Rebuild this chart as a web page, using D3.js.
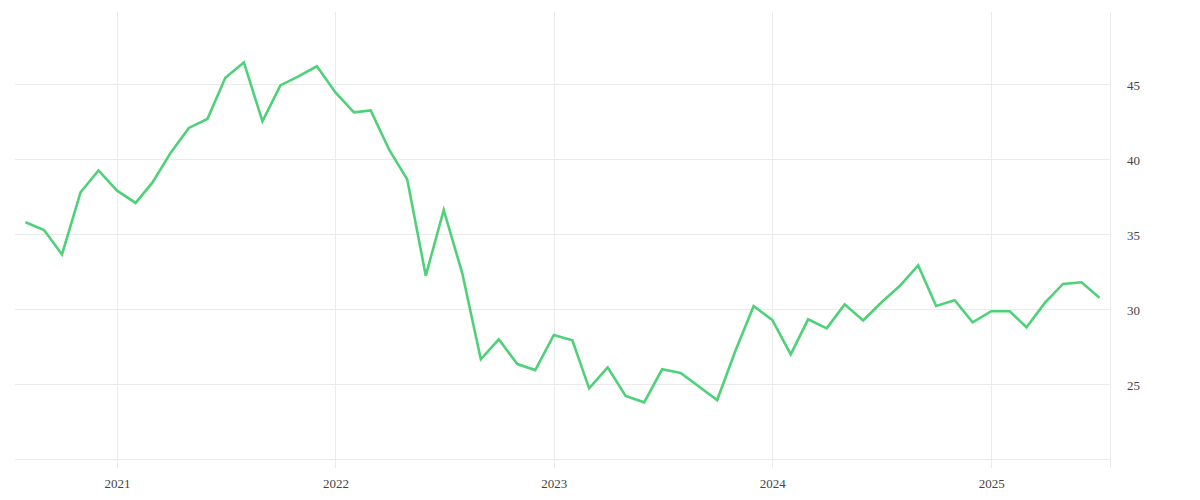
<!DOCTYPE html>
<html>
<head>
<meta charset="utf-8">
<script src="https://cdn.jsdelivr.net/npm/d3@7"></script>
<style>
  html, body { margin: 0; padding: 0; background: #fff; }
  svg { display: block; }
  .tick text { font-family: "Liberation Serif", serif; font-size: 13px; fill: #444; }
</style>
</head>
<body>
<svg id="chart" width="1200" height="500"></svg>
<script>
// ---- data ----
const months = [
  "2020-08","2020-09","2020-10","2020-11","2020-12",
  "2021-01","2021-02","2021-03","2021-04","2021-05","2021-06","2021-07","2021-08","2021-09","2021-10","2021-11","2021-12",
  "2022-01","2022-02","2022-03","2022-04","2022-05","2022-06","2022-07","2022-08","2022-09","2022-10","2022-11","2022-12",
  "2023-01","2023-02","2023-03","2023-04","2023-05","2023-06","2023-07","2023-08","2023-09","2023-10","2023-11","2023-12",
  "2024-01","2024-02","2024-03","2024-04","2024-05","2024-06","2024-07","2024-08","2024-09","2024-10","2024-11","2024-12",
  "2025-01","2025-02","2025-03","2025-04","2025-05","2025-06","2025-07"
];
const values = [
  35.78, 35.27, 33.64, 37.78, 39.24,
  37.89, 37.07, 38.42, 40.44, 42.07, 42.67, 45.42, 46.44, 42.51, 44.91, 45.53, 46.18,
  44.44, 43.11, 43.24, 40.60, 38.64, 32.22, 36.60, 32.38, 26.65, 27.98, 26.33, 25.93,
  28.27, 27.91, 24.71, 26.11, 24.20, 23.78, 25.98, 25.73, 24.82, 23.93, 27.27, 30.20,
  29.27, 26.98, 29.31, 28.71, 30.31, 29.24, 30.42, 31.53, 32.91, 30.20, 30.58, 29.11,
  29.85, 29.85, 28.78, 30.42, 31.67, 31.78, 30.75
];
const yearTicks = ["2021", "2022", "2023", "2024", "2025"];
const yGridValues = [20, 25, 30, 35, 40, 45];
const yTickLabels = [25, 30, 35, 40, 45];

// ---- chart ----
const parseMonth = d3.timeParse("%Y-%m");
const data = months.map((m, i) => ({ date: parseMonth(m), value: values[i] }));

const svg = d3.select("#chart");
const plotLeft = 15, plotRight = 1110, plotTop = 12, plotBottom = 468;

const x = d3.scaleTime()
  .domain(d3.extent(data, d => d.date))
  .range([25.5, 1099.5]);

const y = d3.scaleLinear()
  .domain([19.4, 49.8])
  .range([plotBottom, plotTop]);

const gridColor = "#ebebeb";

// horizontal gridlines
svg.append("g").selectAll("line")
  .data(yGridValues)
  .join("line")
  .attr("x1", plotLeft).attr("x2", plotRight)
  .attr("y1", d => Math.round(y(d)) + 0.5).attr("y2", d => Math.round(y(d)) + 0.5)
  .attr("stroke", gridColor).attr("stroke-width", 1);

// vertical gridlines
const yearDates = yearTicks.map(s => d3.timeParse("%Y")(s));
svg.append("g").selectAll("line")
  .data(yearDates)
  .join("line")
  .attr("x1", d => Math.round(x(d)) + 0.5).attr("x2", d => Math.round(x(d)) + 0.5)
  .attr("y1", plotTop).attr("y2", plotBottom)
  .attr("stroke", gridColor).attr("stroke-width", 1);

// right border line
svg.append("line")
  .attr("x1", plotRight + 0.5).attr("x2", plotRight + 0.5)
  .attr("y1", plotTop).attr("y2", plotBottom)
  .attr("stroke", gridColor).attr("stroke-width", 1);

// x axis labels
const xAxis = d3.axisBottom(x)
  .tickValues(yearDates)
  .tickFormat(d3.timeFormat("%Y"))
  .tickSize(0)
  .tickPadding(0);
const gx = svg.append("g").attr("transform", `translate(0, ${plotBottom})`).call(xAxis);
gx.select(".domain").remove();
gx.selectAll(".tick text").attr("dy", null).attr("y", 19.5);

// y axis labels
const yAxis = d3.axisRight(y)
  .tickValues(yTickLabels)
  .tickFormat(d3.format("d"))
  .tickSize(0)
  .tickPadding(0);
const gy = svg.append("g").attr("transform", `translate(1127, 0)`).call(yAxis);
gy.select(".domain").remove();
gy.selectAll(".tick text").attr("x", 0).attr("dy", "0.42em");

// line
const line = d3.line()
  .x(d => x(d.date))
  .y(d => y(d.value));

svg.append("path")
  .datum(data)
  .attr("fill", "none")
  .attr("stroke", "#4fd17a")
  .attr("stroke-width", 2.6)
  .attr("stroke-linejoin", "miter")
  .attr("d", line);
</script>
</body>
</html>
